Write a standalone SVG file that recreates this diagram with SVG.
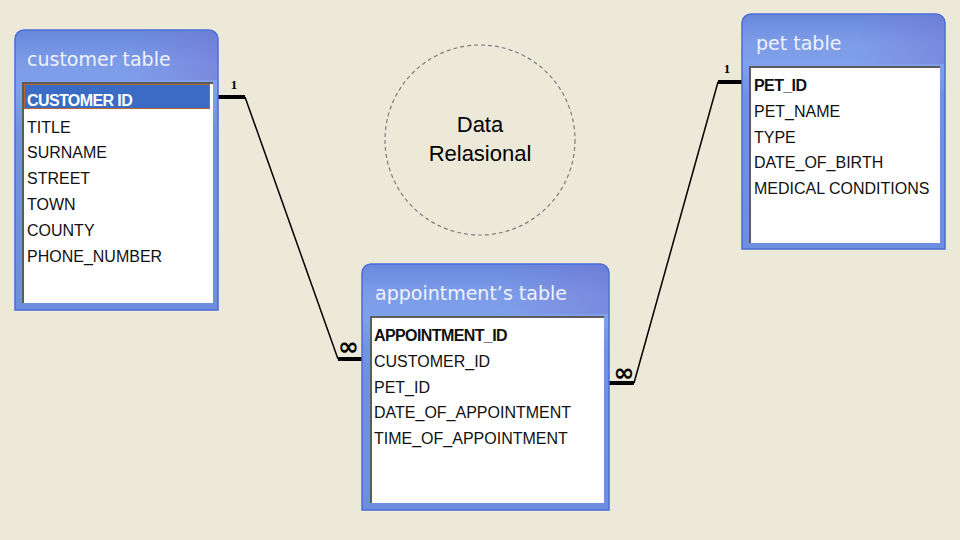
<svg xmlns="http://www.w3.org/2000/svg" width="960" height="540" viewBox="0 0 960 540">
  <defs>
    <linearGradient id="hdr" x1="0" y1="0" x2="0" y2="1">
      <stop offset="0" stop-color="#6888dc"/>
      <stop offset="0.12" stop-color="#7d9ce8"/>
      <stop offset="0.22" stop-color="#7fa0ea"/>
      <stop offset="0.35" stop-color="#7192e2"/>
      <stop offset="1" stop-color="#6e8ee0"/>
    </linearGradient>
    <linearGradient id="hside" x1="0" y1="0" x2="1" y2="0">
      <stop offset="0" stop-color="#7d7ad4" stop-opacity="0"/>
      <stop offset="0.55" stop-color="#7d7ad4" stop-opacity="0"/>
      <stop offset="1" stop-color="#7370d0" stop-opacity="0.45"/>
    </linearGradient>
  </defs>
  <style>
    .bg { fill: #ece9d9; }
    .frame { fill: url(#hdr); stroke: #4a6cd6; stroke-width: 1.5; }
    .side { fill: url(#hside); }
    .inner { fill: #ffffff; }
    .inset { fill: none; stroke: #5c5c5c; stroke-width: 2; }
    .title { font-family: "DejaVu Sans", "Liberation Sans", sans-serif; font-size: 19px; fill: #eef2fc; }
    .row { font-family: "Liberation Sans", Arial, sans-serif; font-size: 16px; fill: #111111; }
    .key { font-weight: bold; letter-spacing: -0.6px; }
    .sel { fill: #3a6cc6; stroke: #b8642e; stroke-width: 1; }
    .seltext { fill: #ffffff; }
    .bar { stroke: #000; stroke-width: 4; fill: none; }
    .link { stroke: #000; stroke-width: 1.5; fill: none; }
    .one { font-family: "Liberation Serif", serif; font-size: 13px; font-weight: bold; fill: #000; text-anchor: middle; }
    .many { font-family: "DejaVu Sans", sans-serif; font-size: 25px; font-weight: bold; fill: #000; text-anchor: middle; }
    .circ { fill: none; stroke: #7a7f86; stroke-width: 1.2; stroke-dasharray: 4 3; }
    .ctext { font-family: "Liberation Sans", Arial, sans-serif; font-size: 22px; fill: #000; text-anchor: middle; }
  </style>

  <rect class="bg" x="0" y="0" width="960" height="540"/>

  <g id="data-relasional">
    <circle class="circ" cx="480" cy="140" r="95"/>
    <text class="ctext" x="480" y="132">Data</text>
    <text class="ctext" x="480" y="161">Relasional</text>
  </g>

  <g id="connectors">
    <path class="bar" d="M218 97 H245"/>
    <path class="link" d="M245 97 L338 359"/>
    <path class="bar" d="M338 359 H362"/>
    <text class="one" x="234" y="89">1</text>
    <text class="many" x="348.5" y="355">∞</text>

    <path class="bar" d="M742 82 H718"/>
    <path class="link" d="M718 82 L634 383"/>
    <path class="bar" d="M634 383 H609"/>
    <text class="one" x="727" y="73">1</text>
    <text class="many" x="624" y="381">∞</text>
  </g>

  <g id="customer-table">
    <path class="frame" d="M15 310 V39 A9 9 0 0 1 24 30 H209 A9 9 0 0 1 218 39 V310 Z"/>
    <path class="side" d="M16 80 V39 A8 8 0 0 1 24 31 H209 A8 8 0 0 1 217 39 V80 Z"/>
    <text class="title" x="27" y="66">customer table</text>
    <rect class="inner" x="22" y="82" width="191" height="221"/>
    <path class="inset" d="M23 303 V83 H213"/>
    <rect class="sel" x="24.5" y="84.5" width="185" height="24"/>
    <text class="row key seltext" x="27" y="106">CUSTOMER ID</text>
    <text class="row" x="27" y="133">TITLE</text>
    <text class="row" x="27" y="158">SURNAME</text>
    <text class="row" x="27" y="184">STREET</text>
    <text class="row" x="27" y="210">TOWN</text>
    <text class="row" x="27" y="236">COUNTY</text>
    <text class="row" x="27" y="262">PHONE_NUMBER</text>
  </g>

  <g id="appointment-table">
    <path class="frame" d="M362 510 V273 A9 9 0 0 1 371 264 H600 A9 9 0 0 1 609 273 V510 Z"/>
    <path class="side" d="M363 314 V273 A8 8 0 0 1 371 265 H600 A8 8 0 0 1 608 273 V314 Z"/>
    <text class="title" x="375" y="300">appointment’s table</text>
    <rect class="inner" x="370" y="316" width="234" height="187"/>
    <path class="inset" d="M371 503 V317 H604"/>
    <text class="row key" x="374" y="341">APPOINTMENT_ID</text>
    <text class="row" x="374" y="367">CUSTOMER_ID</text>
    <text class="row" x="374" y="393">PET_ID</text>
    <text class="row" x="374" y="418">DATE_OF_APPOINTMENT</text>
    <text class="row" x="374" y="444">TIME_OF_APPOINTMENT</text>
  </g>

  <g id="pet-table">
    <path class="frame" d="M742 249 V23 A9 9 0 0 1 751 14 H936 A9 9 0 0 1 945 23 V249 Z"/>
    <path class="side" d="M743 64 V23 A8 8 0 0 1 751 15 H936 A8 8 0 0 1 944 23 V64 Z"/>
    <text class="title" x="756" y="50">pet table</text>
    <rect class="inner" x="749" y="66" width="191" height="177"/>
    <path class="inset" d="M750 243 V67 H940"/>
    <text class="row key" x="754" y="91">PET_ID</text>
    <text class="row" x="754" y="117">PET_NAME</text>
    <text class="row" x="754" y="143">TYPE</text>
    <text class="row" x="754" y="168">DATE_OF_BIRTH</text>
    <text class="row" x="754" y="194">MEDICAL CONDITIONS</text>
  </g>
</svg>
